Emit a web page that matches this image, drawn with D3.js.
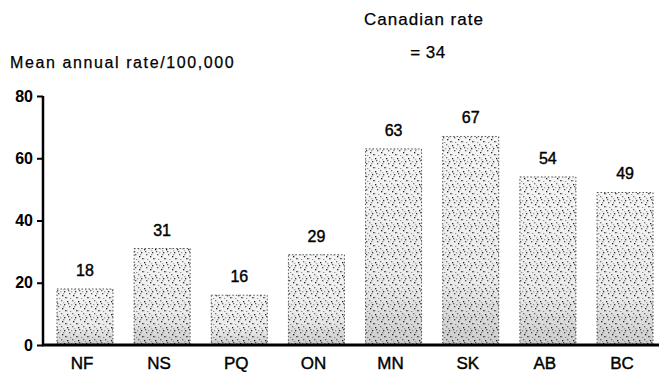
<!DOCTYPE html>
<html><head><meta charset="utf-8">
<script src="https://cdn.jsdelivr.net/npm/d3@7"></script>
<style>
html,body{margin:0;padding:0;background:#fff;}
svg{display:block;font-family:"Liberation Sans",Arial,Helvetica,sans-serif;}
</style></head>
<body>
<svg id="chart" width="659" height="372"></svg>
<script>
const categories = ["NF","NS","PQ","ON","MN","SK","AB","BC"];
const rates = [18,31,16,29,63,67,54,49];
const yTicks = [0,20,40,60,80];
const yLabel = "Mean annual rate/100,000";
const nationalLabel = "Canadian rate";
const nationalValue = "=  34";

const svg = d3.select("#chart");
const x = d3.scaleBand().domain(categories).range([46.4, 663.6]).paddingInner(0.274).paddingOuter(0.137);
const y = d3.scaleLinear().domain([0,80]).range([345,96]);

// stipple pattern
const defs = svg.append("defs");
const pat = defs.append("pattern").attr("id","stip").attr("patternUnits","userSpaceOnUse")
  .attr("width",11).attr("height",13);
pat.append("rect").attr("width",11).attr("height",13).attr("fill","#fff");
const dots = [[1,2,"#222"],[6,1,"#777"],[9,5,"#333"],[3,7,"#555"],[7,9,"#222"],[0,11,"#888"],[5,5,"#aaa"],[10,11,"#555"],[4,12,"#999"],[8,3,"#bbb"],[2,4,"#666"],[8,7,"#999"]];
dots.forEach(d=>pat.append("rect").attr("x",d[0]).attr("y",d[1]).attr("width",1.3).attr("height",1.3).attr("fill",d[2]));
const grad = defs.append("linearGradient").attr("id","shade").attr("x1",0).attr("y1",0).attr("x2",0).attr("y2",1);
grad.append("stop").attr("offset","0%").attr("stop-color","#000").attr("stop-opacity",0.04);
grad.append("stop").attr("offset","70%").attr("stop-color","#000").attr("stop-opacity",0.08);
grad.append("stop").attr("offset","100%").attr("stop-color","#000").attr("stop-opacity",0.2);

const bars = svg.append("g");
bars.selectAll("rect.bar").data(rates).join("rect").attr("class","bar")
  .attr("x",(d,i)=>x(categories[i])).attr("width",x.bandwidth())
  .attr("y",d=>y(d)).attr("height",d=>y(0)-y(d))
  .attr("fill","url(#stip)")
  .attr("stroke","#555").attr("stroke-width",1).attr("stroke-dasharray","1.5,2");
bars.selectAll("rect.shade").data(rates).join("rect").attr("class","shade")
  .attr("x",(d,i)=>x(categories[i])).attr("width",x.bandwidth())
  .attr("y",d=>y(d)).attr("height",d=>y(0)-y(d))
  .attr("fill","url(#shade)");

// value labels
svg.append("g").selectAll("text").data(rates).join("text")
  .attr("x",(d,i)=>x(categories[i])+x.bandwidth()/2)
  .attr("y",d=>y(d)-13)
  .attr("text-anchor","middle").attr("font-size",16).attr("fill","#000")
  .attr("stroke","#000").attr("stroke-width",0.4)
  .text(d=>d);

// y axis
const yAxis = svg.append("g").attr("transform","translate(43,0)")
  .call(d3.axisLeft(y).tickValues(yTicks).tickSize(6).tickPadding(4).tickFormat(d3.format("d")));
yAxis.select(".domain").attr("stroke","#000").attr("stroke-width",2.5).attr("d",`M0,${y(80)}V${y(0)}`);
yAxis.selectAll(".tick line").attr("stroke","#000").attr("stroke-width",2);
yAxis.selectAll(".tick text").attr("font-size",16).attr("font-weight","bold").attr("fill","#000")
  .attr("font-family","Liberation Sans,Arial,sans-serif");

// x axis
const xAxis = svg.append("g").attr("transform",`translate(0,${y(0)})`)
  .call(d3.axisBottom(x).tickSize(0).tickPadding(14));
xAxis.select(".domain").attr("stroke","#000").attr("stroke-width",3).attr("d","M42,0H659");
xAxis.selectAll(".tick text").attr("font-size",17).attr("fill","#000").attr("dx",-3)
  .attr("stroke","#000").attr("stroke-width",0.4)
  .attr("font-family","Liberation Sans,Arial,sans-serif").attr("y",23.5).attr("dy",0);

// titles
svg.append("text").attr("x",10).attr("y",67.5).attr("font-size",16).attr("letter-spacing",1.6).attr("stroke","#000").attr("stroke-width",0.25).text(yLabel);
svg.append("text").attr("x",424).attr("y",25).attr("text-anchor","middle").attr("font-size",17).attr("letter-spacing",1).attr("stroke","#000").attr("stroke-width",0.25).text(nationalLabel);
svg.append("text").attr("x",428).attr("y",57.5).attr("text-anchor","middle").attr("font-size",17).attr("letter-spacing",0.5).attr("stroke","#000").attr("stroke-width",0.25).text(nationalValue);
</script>
</body></html>
